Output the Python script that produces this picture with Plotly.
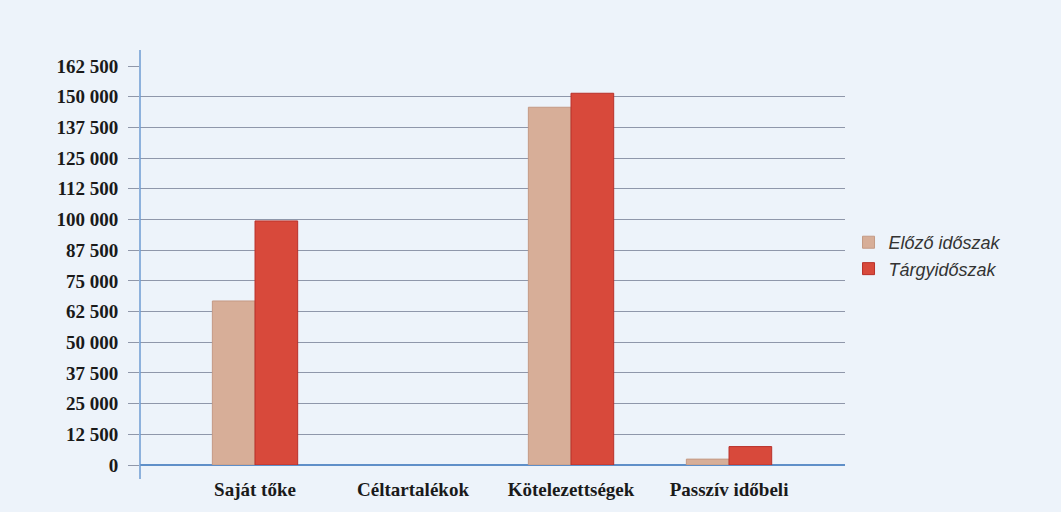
import plotly.graph_objects as go

categories = ["Saját tőke", "Céltartalékok", "Kötelezettségek", "Passzív időbeli"]
elozo = [66800, None, 145700, 2400]
targy = [99400, None, 151400, 7500]
series_names = ["Előző időszak", "Tárgyidőszak"]
tick_vals = [0, 12500, 25000, 37500, 50000, 62500, 75000, 87500, 100000, 112500, 125000, 137500, 150000, 162500]

fig = go.Figure()
fig.add_trace(go.Bar(x=categories, y=elozo, name=series_names[0],
                     marker=dict(color="#d7ae98", line=dict(color="#c49a85", width=1))))
fig.add_trace(go.Bar(x=categories, y=targy, name=series_names[1],
                     marker=dict(color="#d8493b", line=dict(color="#b8302a", width=1))))

fig.update_layout(
    width=1061, height=512,
    margin=dict(l=140, r=216, t=66, b=47, autoexpand=False),
    paper_bgcolor="#edf3fa", plot_bgcolor="rgba(0,0,0,0)",
    separators=", ",
    barmode="group", bargap=0.46, bargroupgap=0,
    showlegend=True,
    legend=dict(x=1.005, y=0.525, xanchor="left", yanchor="middle",
                font=dict(family="Liberation Sans", size=18, color="#333333", style="italic"),
                bgcolor="rgba(0,0,0,0)", tracegroupgap=4),
    font=dict(family="Liberation Serif", color="#1a1a1a"),
    shapes=[dict(type="line", xref="paper", yref="paper", x0=0, x1=0, y0=-0.035, y1=1.04,
                 line=dict(color="#6c9bd2", width=1.5))],
)
fig.update_xaxes(range=[-0.728, 3.734], showgrid=False, showline=False, automargin=False,
                 ticks="", tickfont=dict(family="Liberation Serif", size=19, weight="bold", color="#1a1a1a"),
                 ticklabelstandoff=11)
fig.update_yaxes(range=[0, 162500], tickvals=tick_vals, tickformat=",d", automargin=False,
                 showgrid=True, gridcolor="#8f97aa", gridwidth=1,
                 showline=False,
                 ticks="outside", ticklen=11, tickcolor="#8f97aa", ticklabelstandoff=6,
                 zeroline=True, zerolinecolor="#5f8fc8", zerolinewidth=1.5,
                 tickfont=dict(family="Liberation Serif", size=19, weight="bold", color="#1a1a1a"))

fig.write_html("out.html", config={"displayModeBar": False},
               post_script="document.body.style.margin='0';")
